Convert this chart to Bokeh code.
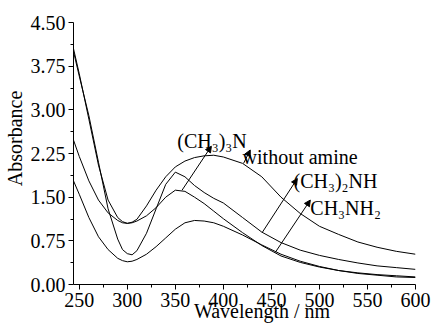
from bokeh.plotting import figure
from bokeh.models import Range1d, FixedTicker, PrintfTickFormatter, Label, Arrow, NormalHead
from bokeh.embed import file_html
from bokeh.resources import INLINE

# ---- data ----
wavelength = [244, 250, 260, 270, 280, 290, 295, 300, 305, 310, 320, 330, 340, 350, 360, 370,
              380, 390, 400, 420, 440, 460, 480, 500, 520, 540, 560, 580, 600]

without_amine = [4.05, 3.62, 2.84, 2.05, 1.45, 1.15, 1.08, 1.05, 1.07, 1.12, 1.35, 1.62, 1.85, 2.02,
                 2.12, 2.18, 2.21, 2.22, 2.19, 2.08, 1.85, 1.50, 1.22, 1.00, 0.86, 0.73, 0.64, 0.57, 0.52]
tma = [2.48, 2.20, 1.78, 1.45, 1.23, 1.10, 1.06, 1.05, 1.06, 1.09, 1.18, 1.32, 1.50, 1.62,
       1.60, 1.50, 1.39, 1.26, 1.13, 0.89, 0.67, 0.49, 0.38, 0.30, 0.24, 0.20, 0.17, 0.15, 0.13]
dma = [4.00, 3.58, 2.90, 2.10, 1.30, 0.78, 0.60, 0.53, 0.51, 0.58, 0.88, 1.30, 1.72, 1.93,
       1.85, 1.70, 1.58, 1.48, 1.40, 1.15, 0.90, 0.72, 0.59, 0.50, 0.43, 0.37, 0.32, 0.29, 0.26]
mma = [1.78, 1.55, 1.15, 0.82, 0.60, 0.45, 0.41, 0.39, 0.40, 0.43, 0.52, 0.65, 0.80, 0.95,
       1.06, 1.10, 1.09, 1.06, 1.00, 0.85, 0.68, 0.52, 0.40, 0.31, 0.24, 0.19, 0.16, 0.13, 0.12]

x_ticks = [250, 300, 350, 400, 450, 500, 550, 600]
x_minor = [275, 325, 375, 425, 475, 525, 575]
y_ticks = [0.0, 0.75, 1.5, 2.25, 3.0, 3.75, 4.5]
y_minor = [0.375, 1.125, 1.875, 2.625, 3.375, 4.125]

NB = "\u00a0"
x_title = NB * 7 + "Wavelength / nm"
y_title = NB * 6 + "Absorbance"

# labels: text, anchor (x, y), arrow start (x, y), arrow end (x, y)
labels = [
    ("(CH\u2083)\u2083N", 352, 2.47, 357, 1.62, 387.5, 2.375),
    ("without amine", 420, 2.19, 421, 2.08, 428, 2.31),
    ("(CH\u2083)\u2082NH", 473, 1.78, 440.5, 0.895, 477, 1.82),
    ("CH\u2083NH\u2082", 490.5, 1.31, 454, 0.55, 490.5, 1.45),
]

FONT = "Liberation Serif"
FS = "20px"

p = figure(width=431, height=327, output_backend="svg", toolbar_location=None,
           x_range=Range1d(244, 600), y_range=Range1d(0, 4.5),
           frame_width=342, frame_height=262,
           min_border_left=73, min_border_right=16, min_border_top=22, min_border_bottom=43)
p.outline_line_color = None
p.xgrid.visible = False
p.ygrid.visible = False
p.background_fill_color = "white"
p.border_fill_color = "white"

for ys in (without_amine, tma, dma, mma):
    p.line(wavelength, ys, line_color="black", line_width=1.0)

p.xaxis.ticker = FixedTicker(ticks=x_ticks, minor_ticks=x_minor)
p.yaxis.ticker = FixedTicker(ticks=y_ticks, minor_ticks=y_minor)
p.yaxis.formatter = PrintfTickFormatter(format="%.2f")
p.xaxis.formatter = PrintfTickFormatter(format="%d")

for ax in (p.xaxis, p.yaxis):
    ax.major_label_text_font = FONT
    ax.major_label_text_font_size = FS
    ax.major_label_text_color = "black"
    ax.axis_line_color = "black"
    ax.major_tick_line_color = "black"
    ax.minor_tick_line_color = "black"
    ax.major_tick_out = 5
    ax.major_tick_in = 0
    ax.minor_tick_out = 3
    ax.minor_tick_in = 0
    ax.major_label_standoff = 3
    ax.axis_label_text_font = FONT
    ax.axis_label_text_font_size = FS
    ax.axis_label_text_font_style = "normal"
    ax.axis_label_text_color = "black"

p.xaxis.axis_label = x_title
p.xaxis.axis_label_standoff = -10
p.yaxis.axis_label = y_title
p.yaxis.axis_label_standoff = 2

for txt, lx, ly, xs, ys_, xe, ye in labels:
    p.add_layout(Label(x=lx, y=ly, text=txt, text_font=FONT, text_font_size=FS,
                       text_baseline="alphabetic", text_color="black"))
    p.add_layout(Arrow(end=NormalHead(size=6, fill_color="black", line_color="black", line_width=1),
                       x_start=xs, y_start=ys_, x_end=xe, y_end=ye,
                       line_color="black", line_width=1))

open("out.html", "w").write(file_html(p, INLINE))
